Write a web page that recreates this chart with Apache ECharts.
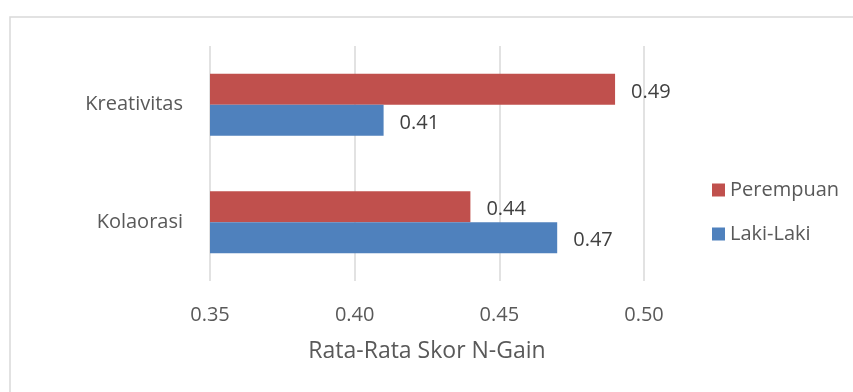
<!DOCTYPE html>
<html>
<head>
<meta charset="utf-8">
<script src="https://cdn.jsdelivr.net/npm/echarts@6/dist/echarts.min.js"></script>
<style>
  html, body { margin: 0; padding: 0; background: #ffffff; }
  #chart { width: 853px; height: 392px; }
</style>
</head>
<body>
<div id="chart"></div>
<script>
// Average N-Gain score by aspect, split by gender
const categories = ['Kreativitas', 'Kolaorasi'];
const perempuan = [0.49, 0.44];
const lakiLaki = [0.41, 0.47];
const seriesNames = ['Perempuan', 'Laki-Laki'];
const axisTitle = 'Rata-Rata Skor N-Gain';

const FONT = '"Open Sans", sans-serif';
const AXIS_COLOR = '#595959';
const LABEL_COLOR = '#404040';

const chart = echarts.init(document.getElementById('chart'), null, { renderer: 'canvas' });

const valueLabel = {
  show: true,
  position: 'right',
  distance: 16,
  offset: [0, 3],
  fontFamily: FONT,
  fontSize: 20,
  color: LABEL_COLOR,
  formatter: p => p.value.toFixed(2)
};

chart.setOption({
  animation: false,
  backgroundColor: '#ffffff',
  graphic: [{
    type: 'rect',
    shape: { x: 10, y: 17, width: 900, height: 420 },
    style: { fill: 'none', stroke: '#d9d9d9', lineWidth: 1.5 },
    silent: true
  }],
  grid: { left: 210, right: 209, top: 46, bottom: 111 },
  legend: {
    orient: 'vertical',
    left: 707,
    top: 175,
    itemWidth: 13,
    itemHeight: 13,
    itemGap: 24,
    itemTextGap: 8,
    icon: 'rect',
    data: seriesNames,
    textStyle: { fontFamily: FONT, fontSize: 20, color: AXIS_COLOR }
  },
  xAxis: {
    type: 'value',
    min: 0.35,
    max: 0.5,
    interval: 0.05,
    name: axisTitle,
    nameLocation: 'middle',
    nameGap: 59,
    nameTextStyle: { fontFamily: FONT, fontSize: 23, color: AXIS_COLOR },
    axisLine: { show: false },
    axisTick: { show: false },
    axisLabel: {
      margin: 24,
      fontFamily: FONT,
      fontSize: 20,
      color: AXIS_COLOR,
      formatter: v => v.toFixed(2)
    },
    splitLine: { show: true, lineStyle: { color: '#d9d9d9', width: 1.5 } }
  },
  yAxis: {
    type: 'category',
    inverse: true,
    data: categories,
    axisLine: { show: false },
    axisTick: { show: false },
    axisLabel: { margin: 27, fontFamily: FONT, fontSize: 20, color: AXIS_COLOR }
  },
  series: [
    {
      name: seriesNames[0],
      type: 'bar',
      data: perempuan,
      barWidth: 31,
      barGap: '0%',
      itemStyle: { color: '#C0504D' },
      label: valueLabel
    },
    {
      name: seriesNames[1],
      type: 'bar',
      data: lakiLaki,
      barWidth: 31,
      barGap: '0%',
      itemStyle: { color: '#4F81BD' },
      label: valueLabel
    }
  ]
});
</script>
</body>
</html>
